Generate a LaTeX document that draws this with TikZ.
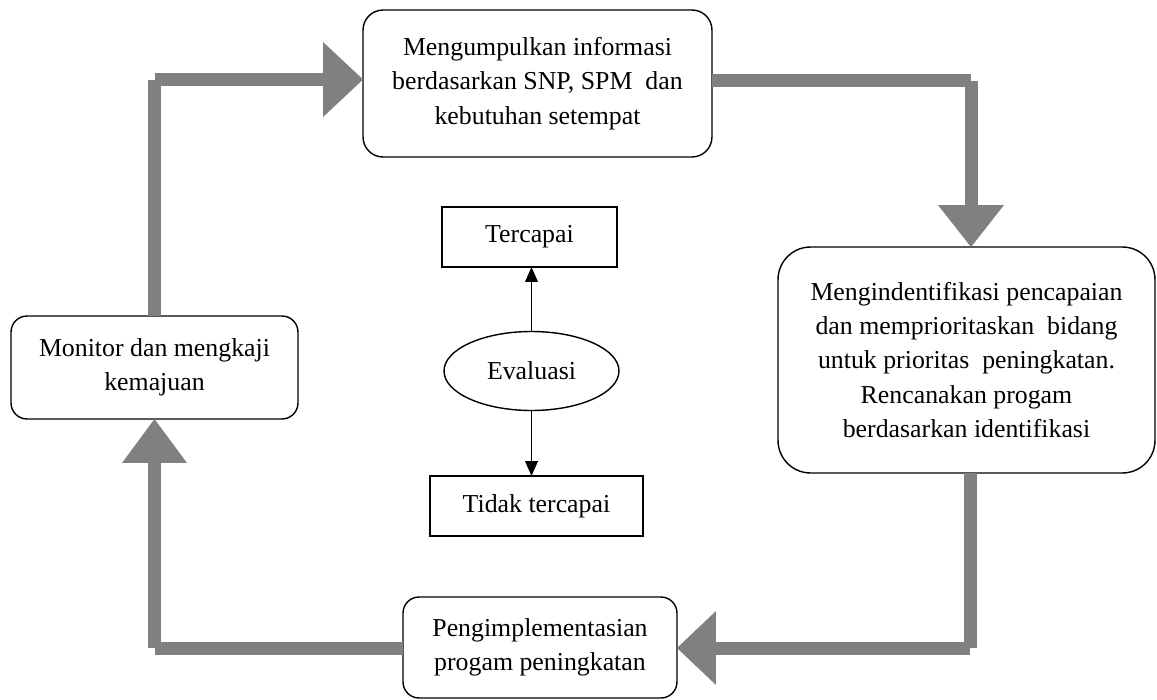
\documentclass[tikz,border=0pt]{standalone}
\usepackage{fontspec}
\setmainfont{Liberation Serif}
\usetikzlibrary{arrows.meta,shapes.geometric}
\definecolor{flowgray}{RGB}{128,128,128}
\newcommand{\bodyfont}{\fontsize{14.7}{19.5}\selectfont}
\tikzset{
  stage/.style={draw=black, line width=0.8pt, rounded corners=#1, fill=white,
    align=center, inner sep=0pt, outer sep=0pt, font=\bodyfont},
  stage/.default=0.35cm,
  result/.style={draw=black, line width=0.8pt, fill=white, align=center,
    inner sep=0pt, outer sep=0pt, font=\bodyfont},
  flow/.style={draw=flowgray, line width=7.4pt, line cap=butt},
  thin/.style={draw=black, line width=0.9pt, -{Triangle[width=7.2pt,length=8.5pt]}}
}
\begin{document}
\begin{tikzpicture}[x=0.02cm, y=-0.02cm]
\useasboundingbox (0,0) rectangle (1157,700);

% main cycle stages
\node[stage=0.4cm, minimum width=6.98cm, minimum height=2.94cm] (tb) at (537.5,83.5)
  {Mengumpulkan informasi\\berdasarkan SNP, SPM\ \ dan\\kebutuhan setempat};
\node[stage=0.65cm, minimum width=7.54cm, minimum height=4.52cm] (rb) at (966.5,360)
  {Mengindentifikasi pencapaian\\dan memprioritaskan\ \ bidang\\untuk prioritas\ \ peningkatan.\\Rencanakan progam\\berdasarkan identifikasi};
\node[stage=0.32cm, minimum width=5.48cm, minimum height=2.02cm] (bb) at (540,647.5)
  {Pengimplementasian\\progam peningkatan};
\node[stage=0.32cm, minimum width=5.74cm, minimum height=2.06cm] (lb) at (154.5,367.5)
  {Monitor dan mengkaji\\kemajuan};

% evaluation in the centre
\node[result, minimum width=3.5cm, minimum height=1.2cm] (tc) at (529.5,237) {Tercapai};
\node[result, ellipse, minimum width=3.5cm, minimum height=1.58cm] (ev) at (531.5,371) {Evaluasi};
\node[result, minimum width=4.26cm, minimum height=1.2cm] (tt) at (536.5,506) {Tidak tercapai};

\draw[thin] (ev.north) -- (ev.north |- tc.south);
\draw[thin] (ev.south) -- (ev.south |- tt.north);

% corners of the thick cycle arrows
\coordinate (tlc) at (lb.north |- 0,79.5);
\coordinate (trc) at (971,80.5);
\coordinate (brc) at (970,648);
\coordinate (blc) at (lb.south |- brc);

% monitor -> collect information
\draw[flow] (lb.north) -- (tlc);
\draw[flow, -{Triangle[width=1.5cm,length=0.8cm,line width=0pt]}] (tlc) -- (tb.west |- tlc);
% collect information -> identify
\draw[flow] (tb.east |- trc) -- (trc);
\draw[flow, -{Triangle[width=1.32cm,length=0.84cm,line width=0pt]}] (trc) -- (rb.north -| trc);
% identify -> implement
\draw[flow] (rb.south -| brc) -- (brc);
\draw[flow, -{Triangle[width=1.48cm,length=0.78cm,line width=0pt]}] (brc) -- (bb.east |- brc);
% implement -> monitor
\draw[flow] (bb.west |- brc) -- (blc);
\draw[flow, -{Triangle[width=1.3cm,length=0.88cm,line width=0pt]}] (blc) -- (lb.south);
\end{tikzpicture}
\end{document}
